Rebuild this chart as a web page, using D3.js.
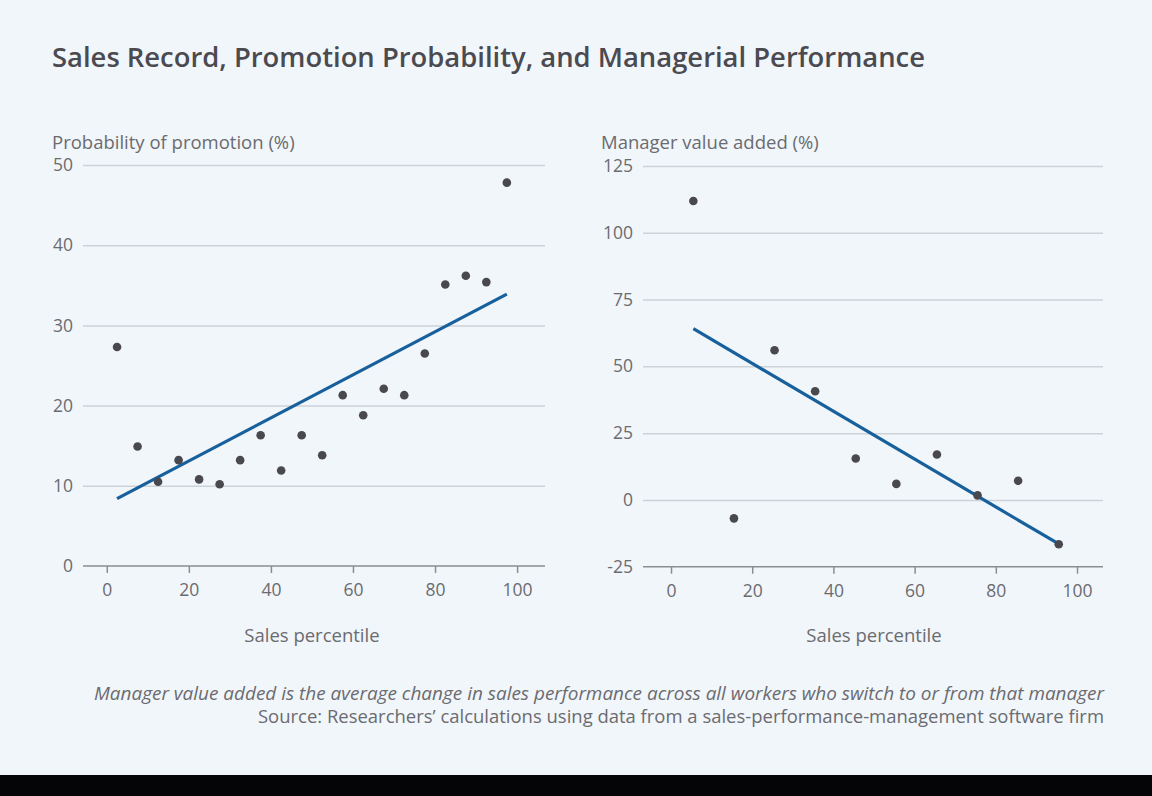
<!DOCTYPE html>
<html>
<head>
<meta charset="utf-8">
<script src="https://cdn.jsdelivr.net/npm/d3@7"></script>
<style>
  html, body { margin: 0; padding: 0; background: #000; }
  svg { display: block; }
  text { font-family: "Open Sans", sans-serif; }
</style>
</head>
<body>
<svg id="chart"></svg>
<script>
// 左: 売上パーセンタイル別の昇進確率
const promoX = [2.5, 7.5, 12.5, 17.5, 22.5, 27.5, 32.5, 37.5, 42.5, 47.5,
                52.5, 57.5, 62.5, 67.5, 72.5, 77.5, 82.5, 87.5, 92.5, 97.5];
const promoY = [27.3, 14.9, 10.5, 13.2, 10.8, 10.2, 13.2, 16.3, 11.9, 16.3,
                13.8, 21.3, 18.8, 22.1, 21.3, 26.5, 35.1, 36.2, 35.4, 47.8];
const promoTrend = [[2.5, 8.4], [97.5, 33.9]];
const promoTicks = [0, 10, 20, 30, 40, 50];

// 右: マネージャーの付加価値
const valueX = [5.5, 15.5, 25.5, 35.5, 45.5, 55.5, 65.5, 75.5, 85.5, 95.5];
const valueY = [111.9, -6.9, 56.0, 40.7, 15.5, 6.0, 17.0, 1.7, 7.2, -16.6];
const valueTrend = [[5.5, 64.1], [95.5, -16.5]];
const valueTicks = [-25, 0, 25, 50, 75, 100, 125];

const xTicks = [0, 20, 40, 60, 80, 100];

const width = 1152;
const height = 796;

const svg = d3.select("#chart")
  .attr("width", width)
  .attr("height", height);

// 背景
svg.append("rect").attr("width", width).attr("height", 775).attr("fill", "#f1f6fa");
svg.append("rect").attr("y", 775).attr("width", width).attr("height", 21).attr("fill", "#050508");

// タイトル
svg.append("text")
  .attr("x", 52).attr("y", 67)
  .attr("textLength", 873).attr("lengthAdjust", "spacingAndGlyphs")
  .style("font-size", "27px").style("font-weight", 600)
  .attr("fill", "#4a4a50")
  .text("Sales Record, Promotion Probability, and Managerial Performance");

function drawPanel(opt) {
  const x = d3.scaleLinear().domain(opt.xDomain).range([opt.left, opt.right]);
  const y = d3.scaleLinear().domain(opt.yDomain).range([opt.bottom, opt.top]);
  const g = svg.append("g");

  // 横グリッド線と目盛ラベル（マイナスはハイフン表記）
  const yAxis = g.append("g")
    .attr("transform", `translate(${opt.left},0)`)
    .call(d3.axisLeft(y).tickValues(opt.yTicks).tickFormat(d => String(d))
      .tickSize(-(opt.right - opt.left)).tickPadding(10));
  yAxis.select(".domain").remove();
  yAxis.selectAll(".tick line")
    .attr("stroke", "#cdd2d8").attr("stroke-width", 1.5);
  yAxis.selectAll(".tick text")
    .attr("fill", "#6b6b70").style("font-size", "17.5px").style("font-family", "Open Sans");
  // 一番下の線はx軸で描く
  yAxis.selectAll(".tick").filter(d => d === opt.yDomain[0]).select("line").remove();

  // x軸
  const xAxis = g.append("g")
    .attr("transform", `translate(0,${opt.bottom})`)
    .call(d3.axisBottom(x).tickValues(xTicks).tickSize(7).tickPadding(11).tickSizeOuter(0));
  xAxis.select(".domain")
    .attr("d", `M${opt.left},0H${opt.right}`)
    .attr("stroke", "#8a8d92").attr("stroke-width", 1.5);
  xAxis.selectAll(".tick line").attr("stroke", "#8a8d92").attr("stroke-width", 1.5);
  xAxis.selectAll(".tick text")
    .attr("fill", "#6b6b70").style("font-size", "17.5px").style("font-family", "Open Sans");

  // 軸タイトル
  g.append("text")
    .attr("x", opt.titleX).attr("y", 149)
    .attr("fill", "#6b6b70").style("font-size", "18.5px")
    .text(opt.yTitle);

  g.append("text")
    .attr("x", (x(0) + x(100)) / 2).attr("y", 642)
    .attr("text-anchor", "middle")
    .attr("fill", "#6b6b70").style("font-size", "18.5px")
    .text("Sales percentile");

  // 回帰直線
  g.append("path")
    .datum(opt.trend)
    .attr("fill", "none")
    .attr("stroke", "#17609c")
    .attr("stroke-width", 3.2)
    .attr("d", d3.line().x(d => x(d[0])).y(d => y(d[1])));

  // 点
  g.selectAll(".dot")
    .data(opt.xs.map((v, i) => [v, opt.ys[i]]))
    .enter()
    .append("circle")
    .attr("class", "dot")
    .attr("cx", d => x(d[0]))
    .attr("cy", d => y(d[1]))
    .attr("r", 4.3)
    .attr("fill", "#48484e");
}

drawPanel({
  xs: promoX, ys: promoY, trend: promoTrend, yTicks: promoTicks,
  xDomain: [-5.8, 106.8], yDomain: [0, 50],
  left: 83, right: 545, top: 165, bottom: 566,
  titleX: 52, yTitle: "Probability of promotion (%)"
});

drawPanel({
  xs: valueX, ys: valueY, trend: valueTrend, yTicks: valueTicks,
  xDomain: [-6.9, 106.4], yDomain: [-25, 125],
  left: 643, right: 1103, top: 166, bottom: 566.7,
  titleX: 601, yTitle: "Manager value added (%)"
});

// 注記
svg.append("text")
  .attr("x", 1104).attr("y", 700)
  .attr("text-anchor", "end")
  .attr("textLength", 1010).attr("lengthAdjust", "spacingAndGlyphs")
  .attr("fill", "#6b6b70").style("font-size", "18px").style("font-style", "italic")
  .text("Manager value added is the average change in sales performance across all workers who switch to or from that manager");

svg.append("text")
  .attr("x", 1104).attr("y", 723)
  .attr("text-anchor", "end")
  .attr("textLength", 846).attr("lengthAdjust", "spacingAndGlyphs")
  .attr("fill", "#6b6b70").style("font-size", "18px")
  .text("Source: Researchers\u2019 calculations using data from a sales-performance-management software firm");
</script>
</body>
</html>
